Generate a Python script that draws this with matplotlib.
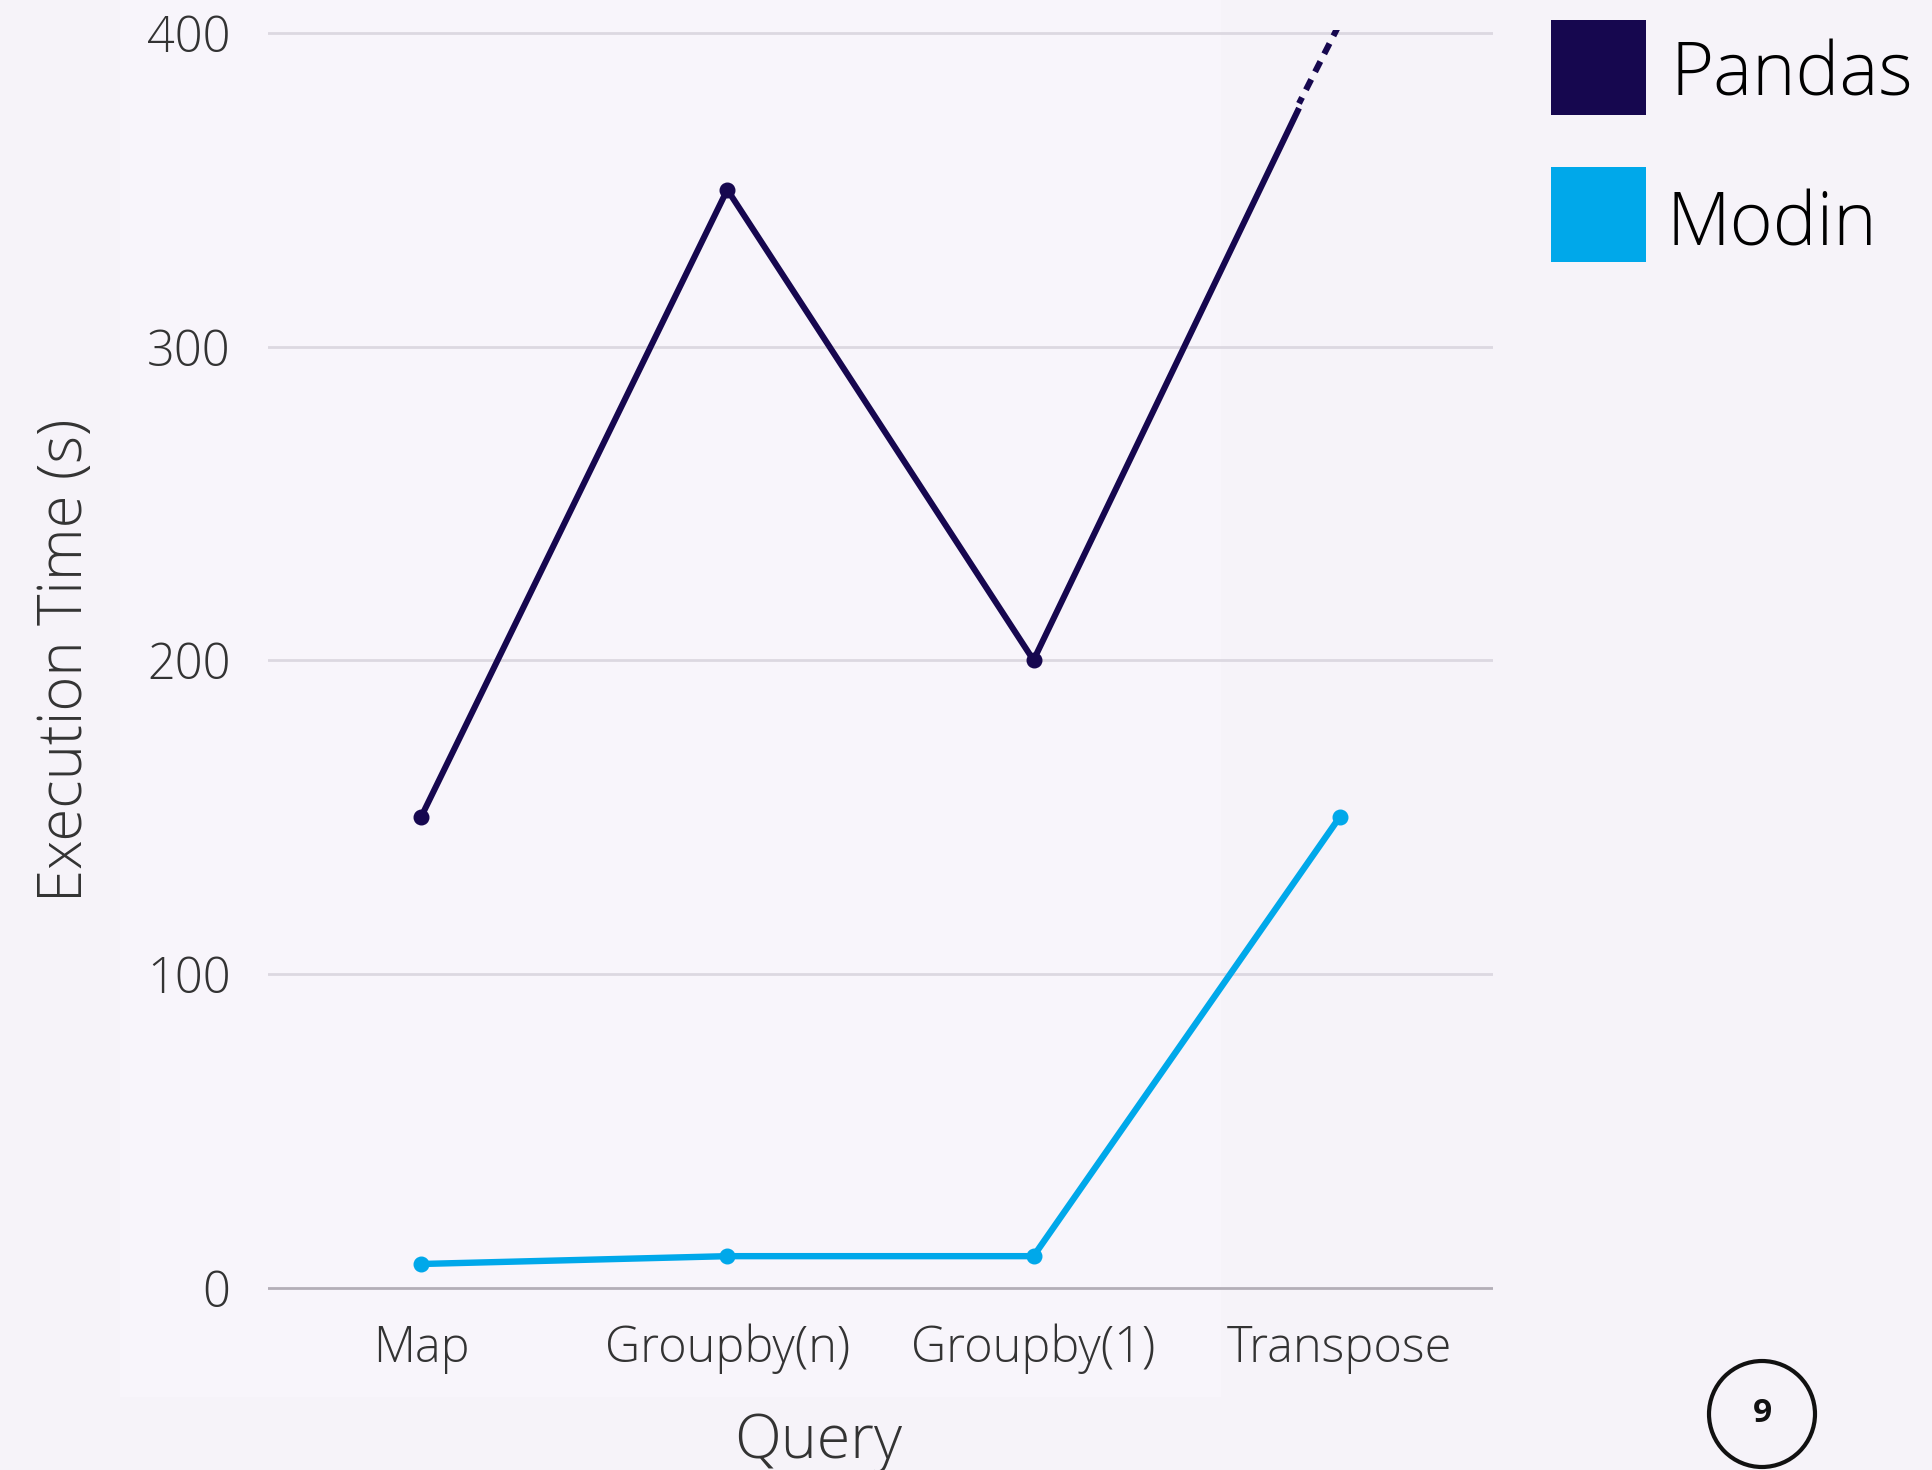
import numpy as np
import matplotlib
matplotlib.use("Agg")
import matplotlib.pyplot as plt
from matplotlib.patches import Rectangle, Ellipse

queries = ["Map", "Groupby(n)", "Groupby(1)", "Transpose"]
pandas_times = [150, 350, 200, 403]
modin_times = [7.5, 10, 10, 150]
pandas_cutoff = 376  # where the pandas line turns dashed
y_ticks = [0, 100, 200, 300, 400]

PANDAS_COLOR = "#16074f"
MODIN_COLOR = "#00a8ea"
BG = "#f6f3f9"

plt.rcParams["font.family"] = ["Open Sans", "DejaVu Sans"]

fig = plt.figure(figsize=(19.32, 14.7), dpi=100, facecolor=BG)
fig.patches.append(Rectangle((0.062, 0.05), 0.57, 0.95, transform=fig.transFigure,
                             facecolor="#f8f5fb", edgecolor="none", zorder=-1))
ax = fig.add_axes([0.1387, 0.122, 0.634, 0.8578])
ax.set_facecolor("none")

x = np.arange(len(queries))

# pandas: solid up to the cutoff on the last segment, dashed after
x_cut = x[2] + (pandas_cutoff - pandas_times[2]) / (pandas_times[3] - pandas_times[2])
ax.plot(list(x[:3]) + [x_cut], pandas_times[:3] + [pandas_cutoff],
        color=PANDAS_COLOR, lw=4.4, solid_capstyle="butt", zorder=3)
ax.plot(x[:3], pandas_times[:3], "o", color=PANDAS_COLOR, ms=10.5, zorder=4)
ax.plot([x_cut, x[3]], [pandas_cutoff + 1.5, pandas_times[3]], color=PANDAS_COLOR,
        lw=4.4, linestyle=(0.8, (1.9, 1.4)), dash_capstyle="butt", zorder=3)

ax.plot(x, modin_times, color=MODIN_COLOR, lw=4.6, zorder=3)
ax.plot(x, modin_times, "o", color=MODIN_COLOR, ms=10.5, zorder=4)

ax.set_xlim(-0.5, 3.5)
ax.set_ylim(-1, 401)
ax.set_yticks(y_ticks)
for t in y_ticks:
    ax.axhline(t, color="#b3aeb7" if t == 0 else "#dcd8e1", lw=2, zorder=1)

ax.set_xticks(x)
ax.set_xticklabels(queries)
ax.tick_params(axis="both", length=0, labelsize=35, labelcolor="#333333")
ax.tick_params(axis="x", pad=24)
ax.tick_params(axis="y", pad=27)
for lab in ax.get_xticklabels() + ax.get_yticklabels():
    lab.set_fontweight("light")
for s in ax.spines.values():
    s.set_visible(False)

ax.set_ylabel("Execution Time (s)", fontsize=43, fontweight="light", color="#333333", labelpad=36)
fig.text(0.4235, 0.019, "Query", fontsize=44, fontweight="light", color="#333333",
         ha="center", va="center")

# legend
for i, (name, col) in enumerate([("Pandas", PANDAS_COLOR), ("Modin", MODIN_COLOR)]):
    y0 = 1 - (115 + i * 147) / 1470
    fig.patches.append(Rectangle((1551 / 1932, y0), 95 / 1932, 95 / 1470,
                                 transform=fig.transFigure, facecolor=col, edgecolor="none"))
    fig.text((1670 - 4 * i) / 1932, 1 - (95 + i * 151) / 1470, name, fontsize=53,
             fontweight="light", color="black", ha="left", va="baseline")

# page number badge
fig.patches.append(Ellipse((1762 / 1932, 1 - 1414 / 1470), 106 / 1932, 106 / 1470,
                           transform=fig.transFigure, facecolor="none",
                           edgecolor="#111111", lw=3))
fig.text(1762 / 1932, 1 - 1414 / 1470, "9", fontsize=24, fontweight="bold",
         color="#111111", ha="center", va="center")

fig.savefig("out.png", dpi=100, facecolor=BG)
